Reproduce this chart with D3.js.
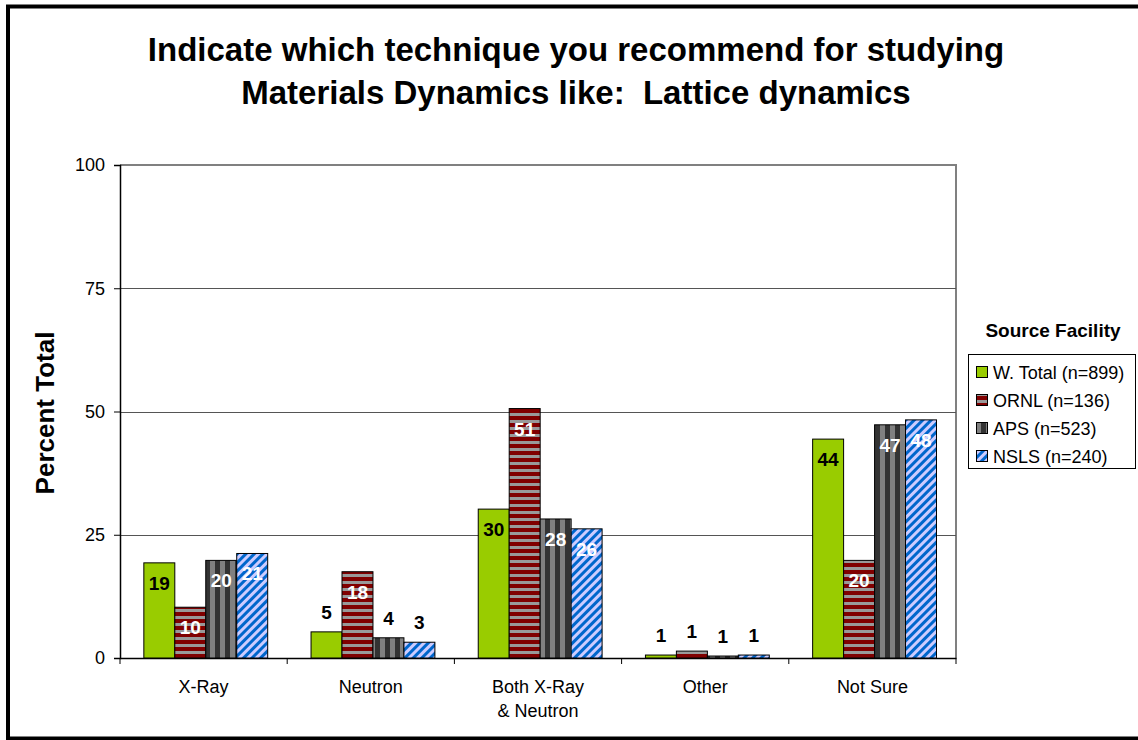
<!DOCTYPE html>
<html>
<head>
<meta charset="utf-8">
<script src="https://cdn.jsdelivr.net/npm/d3@7/dist/d3.min.js"></script>
<style>
  html, body { margin: 0; padding: 0; background: #fff; }
  svg { display: block; font-family: "Liberation Sans", Arial, sans-serif; }
  text { white-space: pre; }
</style>
</head>
<body>
<svg id="chart" width="1138" height="740"></svg>
<script>
// ---- Data ----
const categories = ["X-Ray", "Neutron", "Both X-Ray\n& Neutron", "Other", "Not Sure"];
const seriesNames = ["W. Total (n=899)", "ORNL (n=136)", "APS (n=523)", "NSLS (n=240)"];
const wTotal = [19.3, 5.3, 30.2, 0.6, 44.4];
const ornl   = [10.3, 17.5, 50.6, 1.4, 19.8];
const aps    = [19.8, 4.1, 28.2, 0.4, 47.3];
const nsls   = [21.2, 3.2, 26.2, 0.6, 48.3];
const wTotalLabels = ["19", "5", "30", "1", "44"];
const ornlLabels   = ["10", "18", "51", "1", "20"];
const apsLabels    = ["20", "4", "28", "1", "47"];
const nslsLabels   = ["21", "3", "26", "1", "48"];
const yTicks = [0, 25, 50, 75, 100];
const titleLines = ["Indicate which technique you recommend for studying", "Materials Dynamics like:  Lattice dynamics"];
const yTitle = "Percent Total";
const legendTitle = "Source Facility";

const seriesValues = [wTotal, ornl, aps, nsls];
const seriesLabels = [wTotalLabels, ornlLabels, apsLabels, nslsLabels];
const fills = ["#99CC00", "url(#pOrnl)", "url(#pAps)", "url(#pNsls)"];
const labelInsideColor = ["#000", "#fff", "#fff", "#fff"];

const svg = d3.select("#chart");
const defs = svg.append("defs");

// ORNL: horizontal stripes
const p1 = defs.append("pattern").attr("id", "pOrnl").attr("patternUnits", "userSpaceOnUse")
  .attr("width", 8).attr("height", 7);
p1.append("rect").attr("width", 8).attr("height", 7).attr("fill", "#800000");
p1.append("rect").attr("y", 0).attr("width", 8).attr("height", 3).attr("fill", "#999999");
// APS: vertical stripes
const p2 = defs.append("pattern").attr("id", "pAps").attr("patternUnits", "userSpaceOnUse")
  .attr("width", 10).attr("height", 10);
p2.append("rect").attr("width", 10).attr("height", 10).attr("fill", "#333333");
p2.append("rect").attr("x", 0).attr("width", 5).attr("height", 10).attr("fill", "#808080");
// NSLS: diagonal stripes
const p3 = defs.append("pattern").attr("id", "pNsls").attr("patternUnits", "userSpaceOnUse")
  .attr("width", 6).attr("height", 6).attr("patternTransform", "rotate(45)");
p3.append("rect").attr("width", 6).attr("height", 6).attr("fill", "#CCCCFF");
p3.append("rect").attr("width", 3).attr("height", 6).attr("fill", "#0066CC");

// Outer frame
svg.append("rect").attr("x", 8).attr("y", 6.5).attr("width", 1200).attr("height", 732)
  .attr("fill", "none").attr("stroke", "#000").attr("stroke-width", 4);

// Title
svg.append("g").selectAll("text").data(titleLines).join("text")
  .attr("x", 576).attr("y", (d, i) => 61 + i * 43)
  .attr("text-anchor", "middle").attr("font-size", 33).attr("font-weight", "bold")
  .text(d => d);

// Scales
const plot = { left: 120, right: 956, top: 165, bottom: 658 };
const x = d3.scaleBand().domain(categories).range([plot.left, plot.right]).paddingInner(0).paddingOuter(0);
const xs = d3.scaleBand().domain(d3.range(seriesNames.length)).range([0, x.bandwidth()])
  .paddingInner(0).paddingOuter(0.7).align(0.55);
const y = d3.scaleLinear().domain([0, 100]).range([plot.bottom, plot.top]);

// Plot border (top/right)
svg.append("path")
  .attr("d", `M${plot.left},${plot.top}H${plot.right}V${plot.bottom}`)
  .attr("fill", "none").attr("stroke", "#808080").attr("stroke-width", 2);

// Gridlines
svg.append("g").selectAll("line").data(yTicks.filter(t => t > 0 && t < 100)).join("line")
  .attr("x1", plot.left).attr("x2", plot.right)
  .attr("y1", d => Math.round(y(d)) + 0.5).attr("y2", d => Math.round(y(d)) + 0.5)
  .attr("stroke", "#555").attr("stroke-width", 1.2);

// Y axis
const yAxis = svg.append("g").attr("transform", `translate(${plot.left},0)`)
  .call(d3.axisLeft(y).tickValues(yTicks).tickSize(6).tickPadding(9));
yAxis.select(".domain").attr("stroke", "#000").attr("stroke-width", 1.5);
yAxis.selectAll(".tick line").attr("stroke", "#000");
yAxis.selectAll(".tick text").attr("font-size", 18).attr("fill", "#000")
  .attr("font-family", "'Liberation Sans', Arial, sans-serif");

// X axis
const xAxis = svg.append("g").attr("transform", `translate(0,${plot.bottom})`)
  .call(d3.axisBottom(x).tickSize(0).tickFormat(""));
xAxis.select(".domain").attr("stroke", "#000").attr("stroke-width", 1.5);
// boundary ticks
svg.append("g").selectAll("line").data(categories.slice(1)).join("line")
  .attr("x1", d => x(d)).attr("x2", d => x(d))
  .attr("y1", plot.bottom).attr("y2", plot.bottom + 6).attr("stroke", "#000");
svg.append("g").selectAll("line").data([plot.left, plot.right]).join("line")
  .attr("x1", d => d).attr("x2", d => d)
  .attr("y1", plot.bottom).attr("y2", plot.bottom + 6).attr("stroke", "#000");

// Category labels
const catG = svg.append("g").selectAll("text").data(categories).join("text")
  .attr("x", d => x(d) + x.bandwidth() / 2).attr("y", 693)
  .attr("text-anchor", "middle").attr("font-size", 18);
catG.each(function (d) {
  const lines = d.split("\n");
  d3.select(this).selectAll("tspan").data(lines).join("tspan")
    .attr("x", x(d) + x.bandwidth() / 2).attr("dy", (l, i) => i === 0 ? 0 : 24).text(l => l);
});

// Y title
svg.append("text").attr("transform", "translate(54,413) rotate(-90)")
  .attr("text-anchor", "middle").attr("font-size", 26).attr("font-weight", "bold").text(yTitle);

// Bars
const barG = svg.append("g");
seriesValues.forEach((vals, si) => {
  barG.append("g").selectAll("rect").data(vals).join("rect")
    .attr("x", (v, ci) => x(categories[ci]) + xs(si))
    .attr("y", v => y(v))
    .attr("width", xs.bandwidth())
    .attr("height", v => y(0) - y(v))
    .attr("fill", fills[si])
    .attr("stroke", "#000").attr("stroke-width", 1);
});

// Value labels
seriesValues.forEach((vals, si) => {
  barG.append("g").selectAll("text").data(vals).join("text")
    .attr("x", (v, ci) => x(categories[ci]) + xs(si) + xs.bandwidth() / 2)
    .attr("y", v => v > 8 ? y(v) + 27 : y(v) - 13)
    .attr("text-anchor", "middle").attr("font-size", 19).attr("font-weight", "bold")
    .attr("fill", v => v > 8 ? labelInsideColor[si] : "#000")
    .text((v, ci) => seriesLabels[si][ci]);
});

// Legend
svg.append("text").attr("x", 1053).attr("y", 337).attr("text-anchor", "middle")
  .attr("font-size", 19).attr("font-weight", "bold").text(legendTitle);
svg.append("rect").attr("x", 968.5).attr("y", 354.5).attr("width", 167).attr("height", 114)
  .attr("fill", "#fff").attr("stroke", "#000").attr("stroke-width", 1);
const leg = svg.append("g").selectAll("g").data(seriesNames).join("g")
  .attr("transform", (d, i) => `translate(976,${372 + i * 28})`);
leg.append("rect").attr("x", 0.5).attr("y", -5.5).attr("width", 11).attr("height", 11)
  .attr("fill", (d, i) => fills[i]).attr("stroke", "#000").attr("stroke-width", 1);
leg.append("text").attr("x", 17).attr("y", 6.5).attr("font-size", 18).text(d => d);
</script>
</body>
</html>
